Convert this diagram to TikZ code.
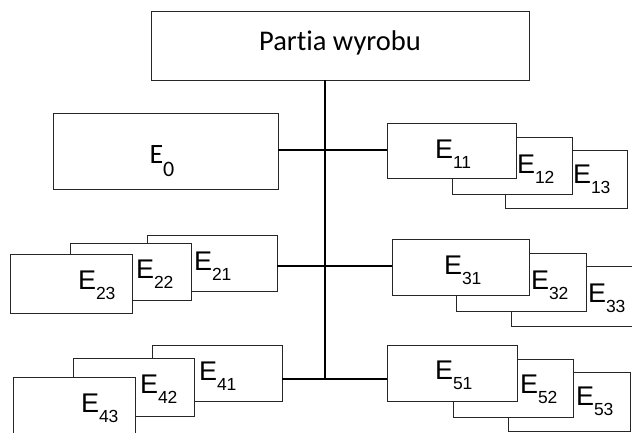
\documentclass[tikz,border=0pt]{standalone}
\usepackage{fontspec}
\setmainfont{Liberation Sans}
\newfontfamily\calfont[Ligatures=NoCommon]{Carlito}
\newcommand{\elab}[1]{\fontsize{27}{30}\selectfont E\raisebox{-10pt}{\fontsize{17.5}{20}\selectfont #1}}
\begin{document}
\begin{tikzpicture}[x=1pt,y=-1pt,
  box/.style={draw=black!85,line width=0.8pt,fill=white},
  lab/.style={anchor=base west,inner sep=0pt,outer sep=0pt},
  conn/.style={line width=1.6pt,black}]
\useasboundingbox (0,0) rectangle (632,432);
\newcommand{\bx}[5]{\node[box,anchor=north west,minimum width={(#4)-(#2)},minimum height={(#5)-(#3)},inner sep=0pt,outer sep=0pt] (#1) at (#2,#3) {};}
% top
\bx{top}{151}{11}{529}{80}
\node[anchor=base,inner sep=0pt] (ttop) at (340,50) {\calfont\fontsize{28.5}{32}\selectfont Partia wyrobu};
% E0
\bx{e0}{53}{113}{278}{189}
\node[lab] (t0) at (149.5,163) {\calfont\fontsize{28}{32}\selectfont E\raisebox{-13pt}{\fontsize{22}{24}\selectfont 0}};
% group 1 (right)
\bx{e13}{505}{150}{627}{208}
\node[lab] (t13) at (573,183) {\elab{13}};
\bx{e12}{452}{137}{572}{194}
\node[lab] (t12) at (517,173) {\elab{12}};
\bx{e11}{387}{123}{516}{178}
\node[lab] (t11) at (435,158) {\elab{11}};
% group 2 (left)
\bx{e21}{147}{235}{277}{291}
\node[lab] (t21) at (194,270) {\elab{21}};
\bx{e22}{70}{243}{191}{300}
\node[lab] (t22) at (136,278) {\elab{22}};
\bx{e23}{10}{254}{132}{313}
\node[lab] (t23) at (78,289) {\elab{23}};
% group 3 (right)
\bx{e33}{511}{266}{640}{326}
\node[lab] (t33) at (588,302) {\elab{33}};
\bx{e32}{456}{253}{586}{311}
\node[lab] (t32) at (531,289) {\elab{32}};
\bx{e31}{392}{239}{529}{295}
\node[lab] (t31) at (444,274) {\elab{31}};
% group 4 (left)
\bx{e41}{152}{345}{282}{401}
\node[lab] (t41) at (199,380) {\elab{41}};
\bx{e42}{73}{358}{194}{416}
\node[lab] (t42) at (140,393) {\elab{42}};
\bx{e43}{13}{377}{135}{445}
\node[lab] (t43) at (81,412) {\elab{43}};
% group 5 (right)
\bx{e53}{508}{372}{630}{431}
\node[lab] (t53) at (576,405) {\elab{53}};
\bx{e52}{453}{359}{573}{417}
\node[lab] (t52) at (520,393) {\elab{52}};
\bx{e51}{387}{345}{517}{401}
\node[lab] (t51) at (435,379) {\elab{51}};
% connectors
\coordinate (j1) at (325,150);
\coordinate (j2) at (325,266);
\coordinate (j3) at (325,379);
\draw[conn] (top.south -| j1) -- (j3);
\draw[conn] (e0.east |- j1) -- (j1) -- (e11.west |- j1);
\draw[conn] (e21.east |- j2) -- (j2) -- (e31.west |- j2);
\draw[conn] (e41.east |- j3) -- (j3) -- (e51.west |- j3);
\end{tikzpicture}
\end{document}
